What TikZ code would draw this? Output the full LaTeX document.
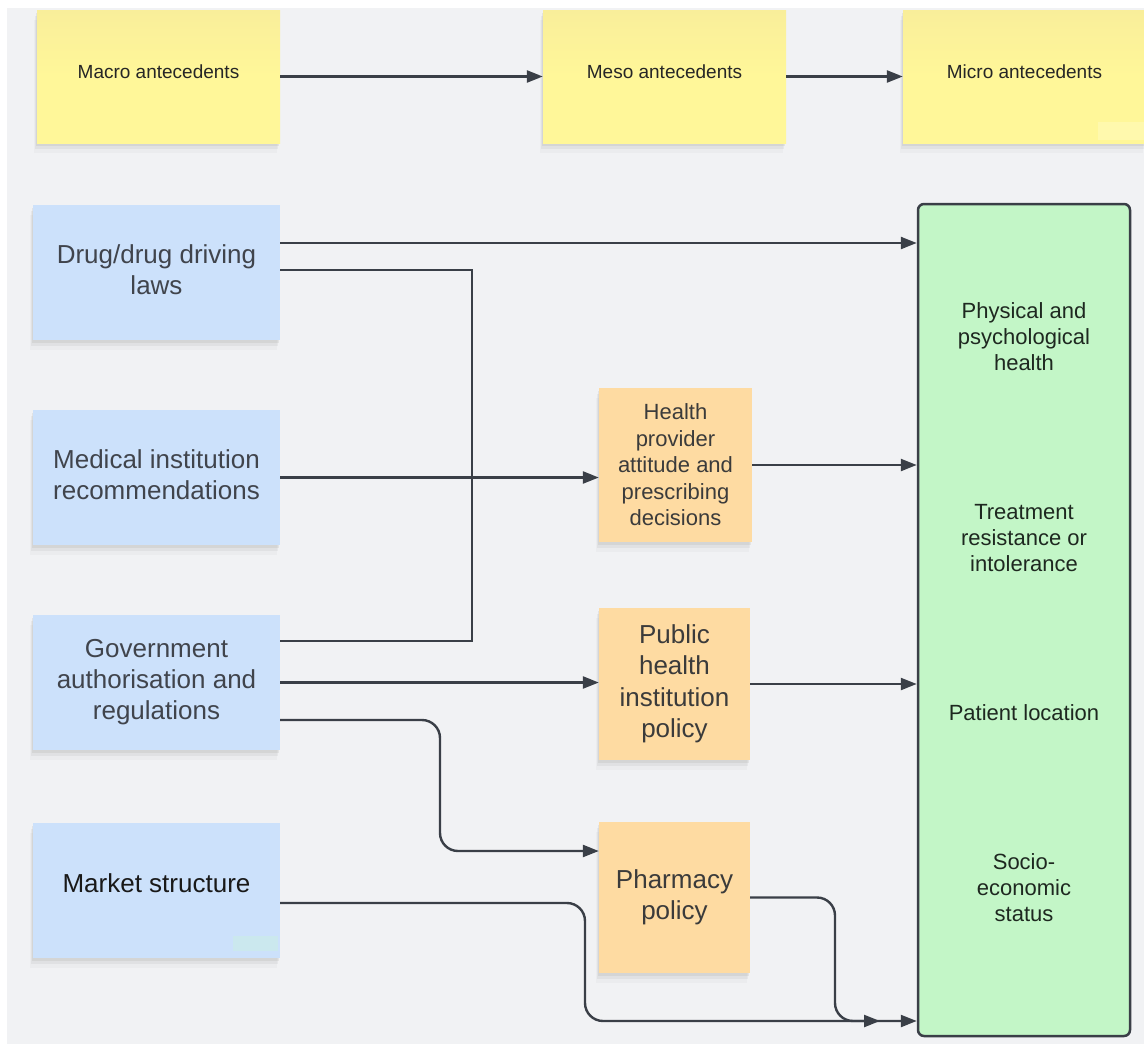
\documentclass[tikz,border=0pt]{standalone}
\usepackage{fontspec}
\setmainfont{Liberation Sans}
\usetikzlibrary{arrows.meta,shadows,calc}
\definecolor{bgc}{RGB}{241,242,244}
\definecolor{yel}{RGB}{255,247,153}
\definecolor{yeltop}{RGB}{249,238,154}
\definecolor{blu}{RGB}{204,225,251}
\definecolor{ora}{RGB}{254,219,162}
\definecolor{grn}{RGB}{195,246,199}
\definecolor{linec}{RGB}{58,63,71}
\definecolor{bluetext}{RGB}{64,68,76}
\definecolor{oratext}{RGB}{59,59,59}
\definecolor{grntext}{RGB}{30,40,32}
\definecolor{patch}{RGB}{203,232,238}
\begin{document}
\begin{tikzpicture}[x=1pt,y=-1pt,
  note/.style={draw=none, inner sep=4pt, align=center,
    drop shadow={opacity=0.13, shadow xshift=-1pt, shadow yshift=-3pt},
    drop shadow={opacity=0.09, shadow xshift=-2pt, shadow yshift=-6pt},
    drop shadow={opacity=0.05, shadow xshift=-3pt, shadow yshift=-10pt}},
  topnote/.style={note, top color=yeltop, bottom color=yel, middle color=yel,
    minimum width=243pt, minimum height=133pt, text=black!85,
    font=\fontsize{19}{23}\selectfont},
  bluenote/.style={note, fill=blu, minimum width=247pt, minimum height=135pt,
    text=bluetext, font=\fontsize{26}{31}\selectfont},
  oranote/.style={note, fill=ora, minimum width=151pt, minimum height=152pt,
    text=oratext},
  grntxt/.style={align=center, text=grntext, font=\fontsize{22}{26}\selectfont, inner sep=0pt},
  conn/.style={draw=linec, line width=2.4pt},
  arr/.style={conn, -{Triangle[length=16pt,width=12pt]}}
]
\useasboundingbox (0,0) rectangle (1144,1044);
\fill[bgc] (7,8) rectangle (1144,1044);

% top row
\node[topnote] (macro) at (158.5,76.5) {\raisebox{10pt}{Macro antecedents}};
\node[topnote] (meso) at (664.5,76.5) {\raisebox{10pt}{Meso antecedents}};
\node[topnote] (micro) at (1024.5,76.5) {\raisebox{10pt}{Micro antecedents}};
\fill[yel!80!white] (1098,122) rectangle (1144,140);

% blue column
\node[bluenote] (drug) at (156.5,272.5) {\raisebox{6pt}{\begin{tabular}{@{}c@{}}Drug/drug driving\\laws\end{tabular}}};
\node[bluenote] (med) at (156.5,477.5) {\raisebox{5pt}{\begin{tabular}{@{}c@{}}Medical institution\\recommendations\end{tabular}}};
\node[bluenote] (gov) at (156.5,682.5) {\raisebox{2pt}{\begin{tabular}{@{}c@{}}Government\\authorisation and\\regulations\end{tabular}}};
\node[bluenote, text=black!90] (market) at (156.5,890) {\raisebox{14pt}{Market structure}};
\fill[patch] (233,936) rectangle (278,951);

% orange column
\node[oranote, minimum width=153pt, minimum height=154pt,
  font=\fontsize{22}{26.5}\selectfont] (health) at (675.5,465)
  {Health\\provider\\attitude and\\prescribing\\decisions};
\node[oranote, font=\fontsize{26}{31.5}\selectfont] (public) at (674.5,684)
  {Public\\health\\institution\\policy};
\node[oranote, minimum height=151pt, font=\fontsize{26}{31.5}\selectfont] (pharm) at (674.5,897.5)
  {\raisebox{6pt}{\begin{tabular}{@{}c@{}}Pharmacy\\policy\end{tabular}}};

% green outcome box
\node[draw=linec, line width=2.5pt, fill=grn, rounded corners=6pt,
  minimum width=212pt, minimum height=832pt] (green) at (1024,620) {};
\node[grntxt] (t1) at (1024,337) {Physical and\\psychological\\health};
\node[grntxt] (t2) at (1024,538) {Treatment\\resistance or\\intolerance};
\node[grntxt] (t3) at (1024,713) {Patient location};
\node[grntxt] (t4) at (1024,888) {Socio-\\economic\\status};

% connectors
\draw[arr] (macro.east) -- (meso.west);
\draw[arr] (meso.east) -- (micro.west);

\coordinate (drugA) at ([yshift=29.5pt]drug.east);
\draw[arr] (drugA) -- (drugA -| green.west);

\coordinate (j1) at (472,641);
\draw[conn] ([yshift=2.5pt]drug.east) -| (j1) -- (j1 -| gov.east);

\draw[arr] (med.east) -- (med.east -| health.west);
\draw[arr] (health.east) -- (health.east -| green.west);

\draw[arr] (gov.east) -- (gov.east -| public.west);
\draw[arr] (public.east) -- (public.east -| green.west);

\coordinate (govC) at ([yshift=-37.5pt]gov.east);
\coordinate (pharmW) at ([yshift=46.5pt]pharm.west);
\coordinate (g2) at (440,0);
\draw[arr, rounded corners=18pt] (govC) -| (g2 |- pharmW) -- (pharmW);

\coordinate (mkC) at ([yshift=-13pt]market.east);
\coordinate (m2) at (585,1021);
\draw[arr, rounded corners=18pt] (mkC) -| (m2) -- (m2 -| green.west);

\coordinate (p2) at (835,1021);
\coordinate (p3) at (880,1021);
\draw[arr, rounded corners=18pt] (pharm.east) -| (p2) -- (p3);
\end{tikzpicture}
\end{document}
